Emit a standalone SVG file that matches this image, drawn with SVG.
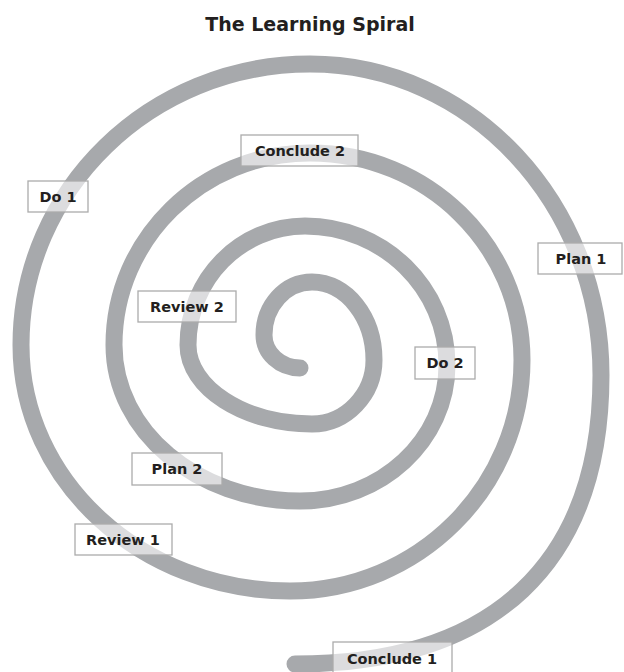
<svg xmlns="http://www.w3.org/2000/svg" width="624" height="672" viewBox="0 0 624 672">
<style>
.spiral{fill:none;stroke:#a7a9ac;stroke-width:17;stroke-linecap:round;stroke-linejoin:round}
.box{fill:#ffffff;fill-opacity:0.6;stroke:#ababab;stroke-width:1.3}
.lbl{font-family:"DejaVu Sans","Liberation Sans",sans-serif;font-weight:bold;font-size:14.5px;fill:#231f20;text-anchor:middle}
.title{font-family:"DejaVu Sans","Liberation Sans",sans-serif;font-weight:bold;font-size:19px;fill:#231f20;text-anchor:middle}
</style>
<rect width="624" height="672" fill="#ffffff"/>
<text class="title" x="310" y="31">The Learning Spiral</text>
<g id="connectors">
<path class="spiral" d="M300,368 C280.1,368 264,353.2 264,335 C264,305.7 285.5,282 312,282 C346.2,282 374,316.9 374,360 C374,394.2 346.2,424 312,424 C243.5,424 188,387.5 188,345 C188,279.3 240.4,226 305,226 C383.4,226 447,288.2 447,365 C447,440.1 381.2,501 300,501 C197.3,501 114,431.2 114,345 C114,238.9 201.8,153 310,153 C427.1,153 522,245.6 522,360 C522,487.6 418.1,591 290,591 C141.4,591 21,480.9 21,345 C21,189.8 150.4,64 310,64 C470.7,64 601,203.2 601,375 C601,562.9 493.9,664 295,664"/>
</g>
<g id="conclude2"><rect class="box" x="241" y="135" width="117" height="31"/><text class="lbl" x="300" y="156">Conclude 2</text></g>
<g id="do1"><rect class="box" x="28" y="181" width="60" height="31"/><text class="lbl" x="58" y="202">Do 1</text></g>
<g id="plan1"><rect class="box" x="538" y="243" width="84" height="31"/><text class="lbl" x="581" y="264">Plan 1</text></g>
<g id="review2"><rect class="box" x="138" y="291" width="98" height="31"/><text class="lbl" x="187" y="312">Review 2</text></g>
<g id="do2"><rect class="box" x="415" y="347" width="60" height="32"/><text class="lbl" x="445" y="368">Do 2</text></g>
<g id="plan2"><rect class="box" x="132" y="453" width="90" height="32"/><text class="lbl" x="177" y="474">Plan 2</text></g>
<g id="review1"><rect class="box" x="75" y="524" width="97" height="31"/><text class="lbl" x="123" y="545">Review 1</text></g>
<g id="conclude1"><rect class="box" x="333" y="642" width="119" height="34"/><text class="lbl" x="392" y="664">Conclude 1</text></g>
</svg>
